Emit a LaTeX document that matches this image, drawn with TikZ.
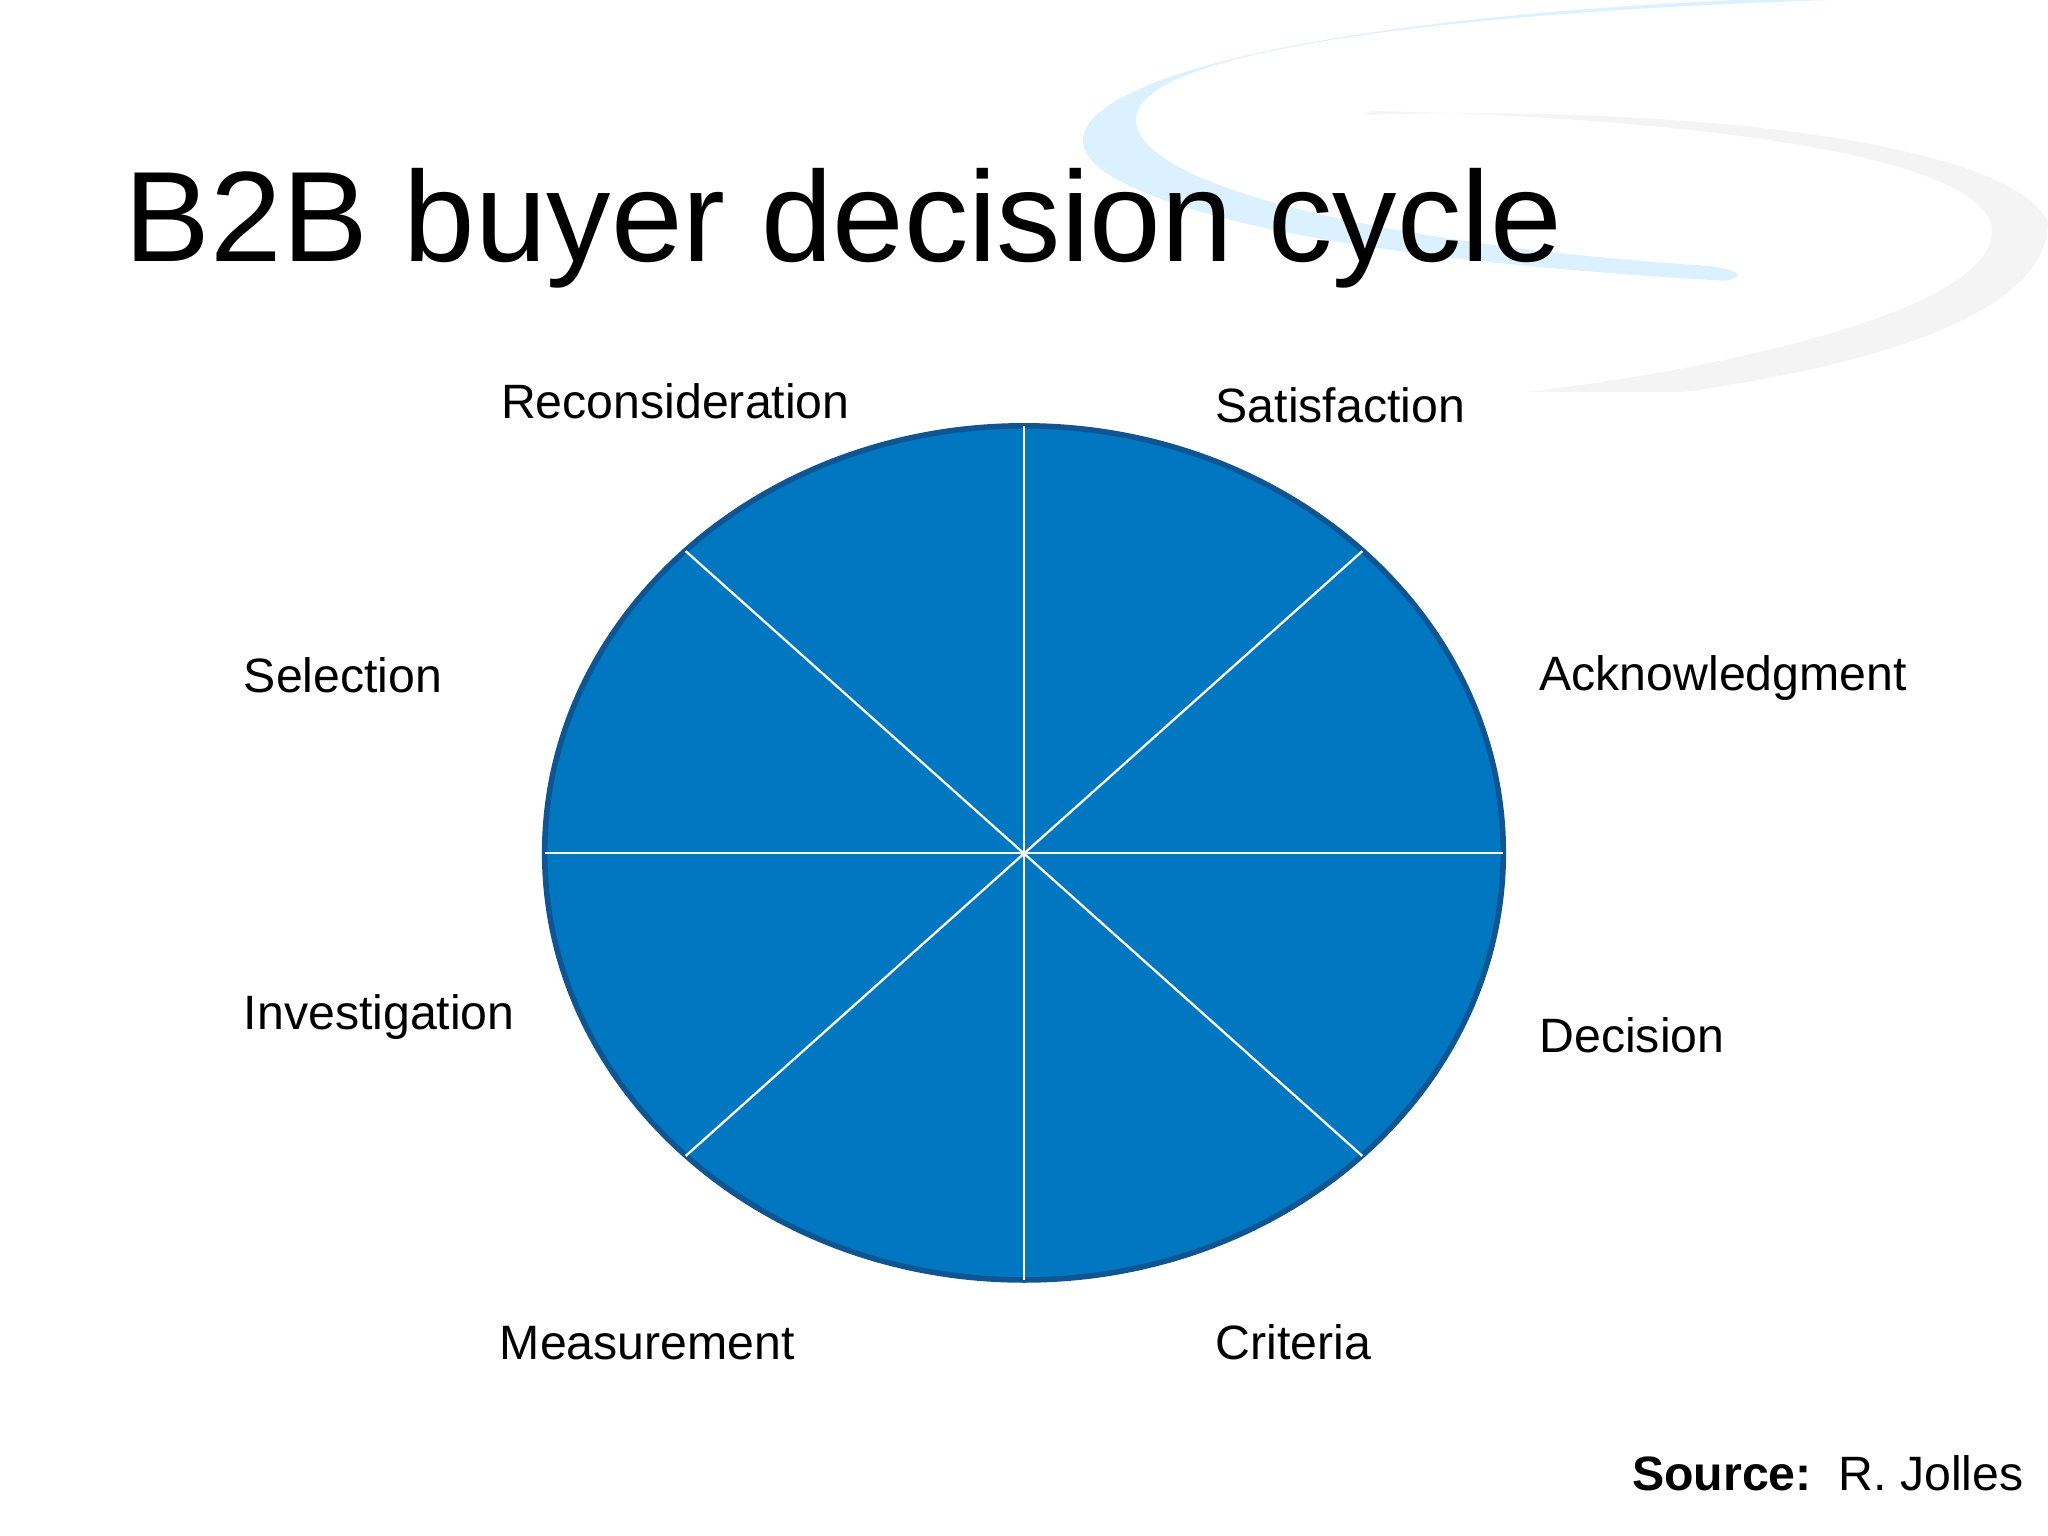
\documentclass[tikz,border=0pt]{standalone}
\usepackage{fontspec}
\setmainfont{Liberation Sans}
\begin{document}
\begin{tikzpicture}[x=0.01cm,y=-0.01cm,
  lbl/.style={anchor=west,font=\fontsize{10.5}{12}\selectfont,inner sep=0pt},
  spoke/.style={draw=white,line width=0.5pt}]
\useasboundingbox (0,0) rectangle (1568,1176);
% swoosh background
\fill[blue!40!cyan!25,opacity=0.55] (1330,0) .. controls (900,20) and (760,90) .. (860,140)
  .. controls (950,185) and (1150,205) .. (1320,215) .. controls (1340,212) and (1330,205) .. (1300,203)
  .. controls (1100,190) and (880,150) .. (870,95) .. controls (860,40) and (1100,10) .. (1400,0) -- cycle;
\fill[gray!15,opacity=0.6] (1050,85) .. controls (1300,90) and (1520,120) .. (1525,175)
  .. controls (1530,240) and (1300,285) .. (1170,300) -- (1290,300)
  .. controls (1500,270) and (1568,220) .. (1568,170) .. controls (1540,110) and (1300,80) .. (1045,88) -- cycle;
\node[anchor=base west,inner sep=0pt,font=\fontsize{28}{32}\selectfont] (title) at (95,200) {B2B buyer decision cycle};
\coordinate (o) at (784,653);
\filldraw[fill={rgb,255:red,0;green,119;blue,192},draw={rgb,255:red,15;green,85;blue,145},line width=1.2pt]
  (o) ellipse [x radius=367,y radius=327];
\coordinate (n) at (784,326); \coordinate (s) at (784,980);
\coordinate (w) at (417,653); \coordinate (e) at (1151,653);
\coordinate (nw) at (525,422); \coordinate (ne) at (1043,422);
\coordinate (sw) at (525,885); \coordinate (se) at (1043,885);
\draw[spoke] (n) -- (s); \draw[spoke] (w) -- (e);
\draw[spoke] (nw) -- (se); \draw[spoke] (ne) -- (sw);
\node[lbl] (l1) at (383,307) {Reconsideration};
\node[lbl] (l2) at (930,310) {Satisfaction};
\node[lbl] (l3) at (186,517) {Selection};
\node[lbl] (l4) at (1178,519) {Acknowledgment};
\node[lbl] (l5) at (186,779) {Investigation};
\node[lbl] (l6) at (1178,793) {Decision};
\node[lbl] (l7) at (382,1028) {Measurement};
\node[lbl] (l8) at (930,1028) {Criteria};
\node[anchor=east,inner sep=0pt,font=\fontsize{10.5}{12}\selectfont] (src) at (1550,1128) {\textbf{Source:}\ \ R. Jolles};
\end{tikzpicture}
\end{document}
